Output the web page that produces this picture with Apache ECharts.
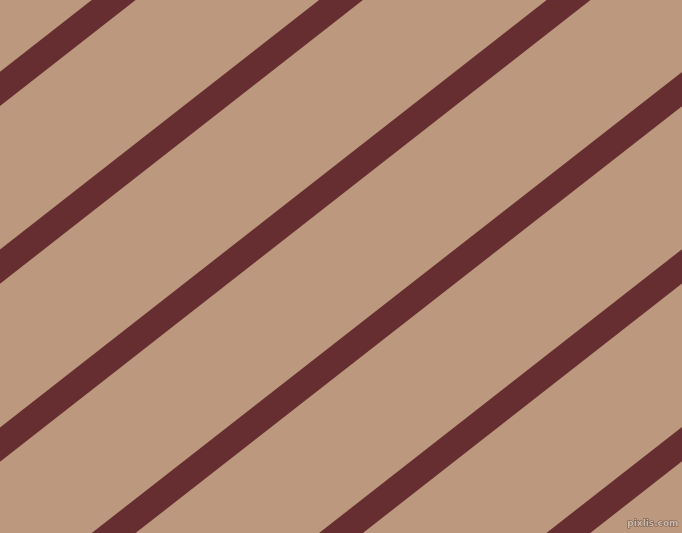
<!DOCTYPE html>
<html>
<head>
<meta charset="utf-8">
<script src="https://cdn.jsdelivr.net/npm/echarts@6/dist/echarts.min.js"></script>
<style>
html,body{margin:0;padding:0;background:#BC987E;}
#chart{width:682px;height:533px;}
</style>
</head>
<body>
<div id="chart"></div>
<script>
// Stripe end points (pixel-space values)
var stripeStartX = [-40, -40, -40, -40, -40, -40];
var stripeStartY = [120, 298, 476, 653, 831, 1008];
var stripeEndX = [722, 722, 722, 722, 722, 722];
var stripeEndY = [-475, -298, -120, 58, 235, 413];
var watermark = 'pixlis.com';

var chart = echarts.init(document.getElementById('chart'), null, {renderer: 'canvas'});
var series = stripeStartY.map(function (y0, i) {
  return {
    type: 'line',
    data: [[stripeStartX[i], y0], [stripeEndX[i], stripeEndY[i]]],
    symbol: 'none',
    clip: true,
    silent: true,
    animation: false,
    lineStyle: {color: '#672E31', width: 27, cap: 'butt'}
  };
});
chart.setOption({
  backgroundColor: '#BC987E',
  animation: false,
  grid: {left: 0, right: 0, top: 0, bottom: 0},
  xAxis: {type: 'value', min: 0, max: 682, show: false},
  yAxis: {type: 'value', min: 0, max: 533, inverse: true, show: false},
  series: series,
  graphic: [{
    type: 'text',
    right: 3,
    bottom: 4,
    style: {
      text: watermark,
      font: 'bold 9px "DejaVu Sans", sans-serif',
      fill: '#CDBBAE',
      stroke: '#6E5546',
      lineWidth: 1
    }
  }]
});
</script>
</body>
</html>
